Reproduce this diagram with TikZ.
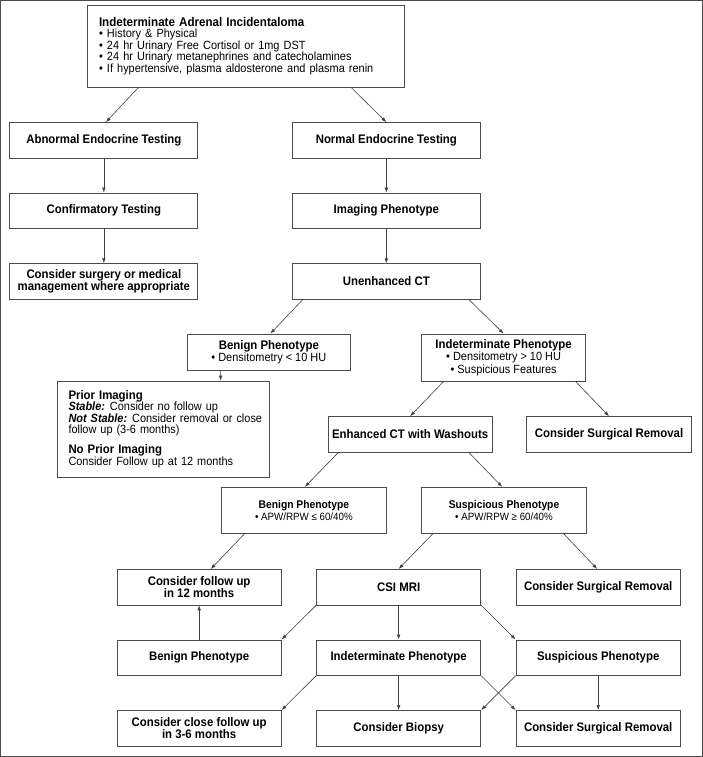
\documentclass[tikz,border=0pt]{standalone}
\usepackage{fontspec}
\setmainfont{Liberation Sans}[FakeStretch=0.92]
\usetikzlibrary{arrows.meta,calc}
\newcommand{\bul}[1]{{\mdseries\fontsize{11.9}{12}\selectfont #1}}
\newcommand{\sbul}[1]{{\mdseries\fontsize{10.6}{11.7}\selectfont #1}}
\begin{document}
\begin{tikzpicture}[x=1pt,y=-1pt,
  box/.style={draw=black!70, line width=0.8pt, inner sep=0pt, align=center,
    font=\fontsize{12.4}{12.3}\selectfont\bfseries},
  wide/.style={box, minimum width=188pt, minimum height=35.6pt},
  mid/.style={box, minimum width=164.4pt, minimum height=35.5pt},
  arr/.style={draw=black!75, line width=0.6pt, -{Latex[length=5pt,width=3.6pt]}}
]
\useasboundingbox (0,0) rectangle (703,757);
\draw[black!70, line width=1.2pt] (0.6,0.6) rectangle (702.4,756.2);

% top
\node[box, align=left, text width=293.8pt, inner xsep=11.5pt, minimum width=316.8pt,
      minimum height=82.3pt] (top) at (245.9,46.15)
  {{\fontsize{12.6}{11.5}\selectfont Indeterminate Adrenal Incidentaloma}\\
   \mdseries\fontsize{11.9}{11.5}\selectfont • History \& Physical\\
   • 24 hr Urinary Free Cortisol or 1mg DST\\
   • 24 hr Urinary metanephrines and catecholamines\\
   • If hypertensive, plasma aldosterone and plasma renin};

% left column
\node[wide] (abn)  at (103.85,140.4) {Abnormal Endocrine Testing};
\node[wide] (conf) at (103.85,210.8) {Confirmatory Testing};
\node[wide] (surg) at (103.85,281.5) {Consider surgery or medical\\management where appropriate};

% right column
\node[wide] (nrm)  at (386.35,140.4) {Normal Endocrine Testing};
\node[wide] (img)  at (386.35,210.8) {Imaging Phenotype};
\node[wide] (unct) at (386.35,281.5) {Unenhanced CT};

% CT phenotypes
\node[box, minimum width=163.7pt, minimum height=36pt] (ben1) at (268.85,352)
  {Benign Phenotype\\\bul{• Densitometry < 10 HU}};
\node[box, minimum width=164pt, minimum height=47pt] (ind1) at (503.6,357.5)
  {Indeterminate Phenotype\\\bul{• Densitometry > 10 HU}\\\bul{• Suspicious Features}};

% prior imaging
\node[box, align=left, text width=189pt, inner xsep=11.5pt, minimum width=212pt,
      minimum height=96pt, font=\fontsize{11.9}{11.6}\selectfont] (prior) at (163,429)
  {\mbox{\bfseries\fontsize{12.4}{11.6}\selectfont Prior Imaging}\\
   \mbox{\textbf{\textit{Stable:}}\kern-1pt{} Consider no follow up}\\
   \mbox{\textbf{\textit{Not Stable:}}\kern-1pt{} Consider removal or close}\\
   \mbox{follow up (3-6 months)}\\[8.5pt]
   \mbox{\bfseries\fontsize{12.4}{11.6}\selectfont No Prior Imaging}\\
   \mbox{Consider Follow up at 12 months}};

% enhanced CT
\node[mid] (enh)  at (410.1,434.35) {Enhanced CT with Washouts};
\node[mid] (csr1) at (609,434.35) {Consider Surgical Removal};

% washout phenotypes
\node[box, minimum width=164.8pt, minimum height=46.2pt,
      font=\fontsize{11.2}{11.7}\selectfont\bfseries] (ben2) at (303.9,510.4)
  {Benign Phenotype\\\sbul{• APW/RPW ≤ 60/40\%}};
\node[box, minimum width=164.8pt, minimum height=46.2pt,
      font=\fontsize{11.2}{11.7}\selectfont\bfseries] (susp2) at (504,510.4)
  {Suspicious Phenotype\\\sbul{• APW/RPW ≥ 60/40\%}};

% MRI row
\node[mid] (fu12) at (199.1,587.15) {Consider follow up\\in 12 months};
\node[mid] (csi)  at (398.65,587.15) {CSI MRI};
\node[mid] (csr2) at (598.2,587.15) {Consider Surgical Removal};

% MRI phenotypes
\node[mid] (ben3)  at (199.1,657.65) {Benign Phenotype};
\node[mid] (ind3)  at (398.65,657.65) {Indeterminate Phenotype};
\node[mid] (susp3) at (598.2,657.65) {Suspicious Phenotype};

% final row
\node[mid] (fu36) at (199.1,728.2) {Consider close follow up\\in 3-6 months};
\node[mid] (bio)  at (398.65,728.2) {Consider Biopsy};
\node[mid] (csr3) at (598.2,728.2) {Consider Surgical Removal};

% connectors
\draw[arr] ($(top.south west)+(51.1,0)$) -- ($(abn.north)+(2,0)$);
\draw[arr] ($(top.south east)+(-53.3,0)$) -- (nrm.north);
\draw[arr] (abn) -- (conf);
\draw[arr] (conf) -- (surg);
\draw[arr] (nrm) -- (img);
\draw[arr] (img) -- (unct);
\draw[arr] ($(unct.south west)+(10.7,0)$) -- ($(ben1.north)+(1.5,0)$);
\draw[arr] ($(unct.south east)+(-11.7,0)$) -- (ind1.north);
\draw[arr] ($(ben1.south west)+(34,0)$) -- ($(prior.north west)+(164,0)$);
\draw[arr] ($(ind1.south west)+(22.5,0)$) -- (enh.north);
\draw[arr] ($(ind1.south east)+(-10.6,0)$) -- (csr1.north);
\draw[arr] ($(enh.south west)+(10.8,0)$) -- ($(ben2.north)+(1,0)$);
\draw[arr] ($(enh.south east)+(-23.8,0)$) -- ($(susp2.north)+(-1.8,0)$);
\draw[arr] ($(ben2.south west)+(23.3,0)$) -- ($(fu12.north)+(11.7,0)$);
\draw[arr] ($(susp2.south west)+(11.5,0)$) -- (csi.north);
\draw[arr] ($(susp2.south east)+(-23,0)$) -- ($(csr2.north)+(-1,0)$);
\draw[arr] (ben3.north) -- (fu12.south);
\draw[arr] (csi.south west) -- (ben3.north east);
\draw[arr] (csi.south) -- (ind3.north);
\draw[arr] (csi.south east) -- (susp3.north west);
\draw[arr] (ind3.south west) -- (fu36.north east);
\draw[arr] (ind3.south) -- (bio.north);
\draw[arr] (ind3.south east) -- (csr3.north west);
\draw[arr] (susp3.south west) -- (bio.north east);
\draw[arr] (susp3.south) -- (csr3.north);
\end{tikzpicture}
\end{document}
